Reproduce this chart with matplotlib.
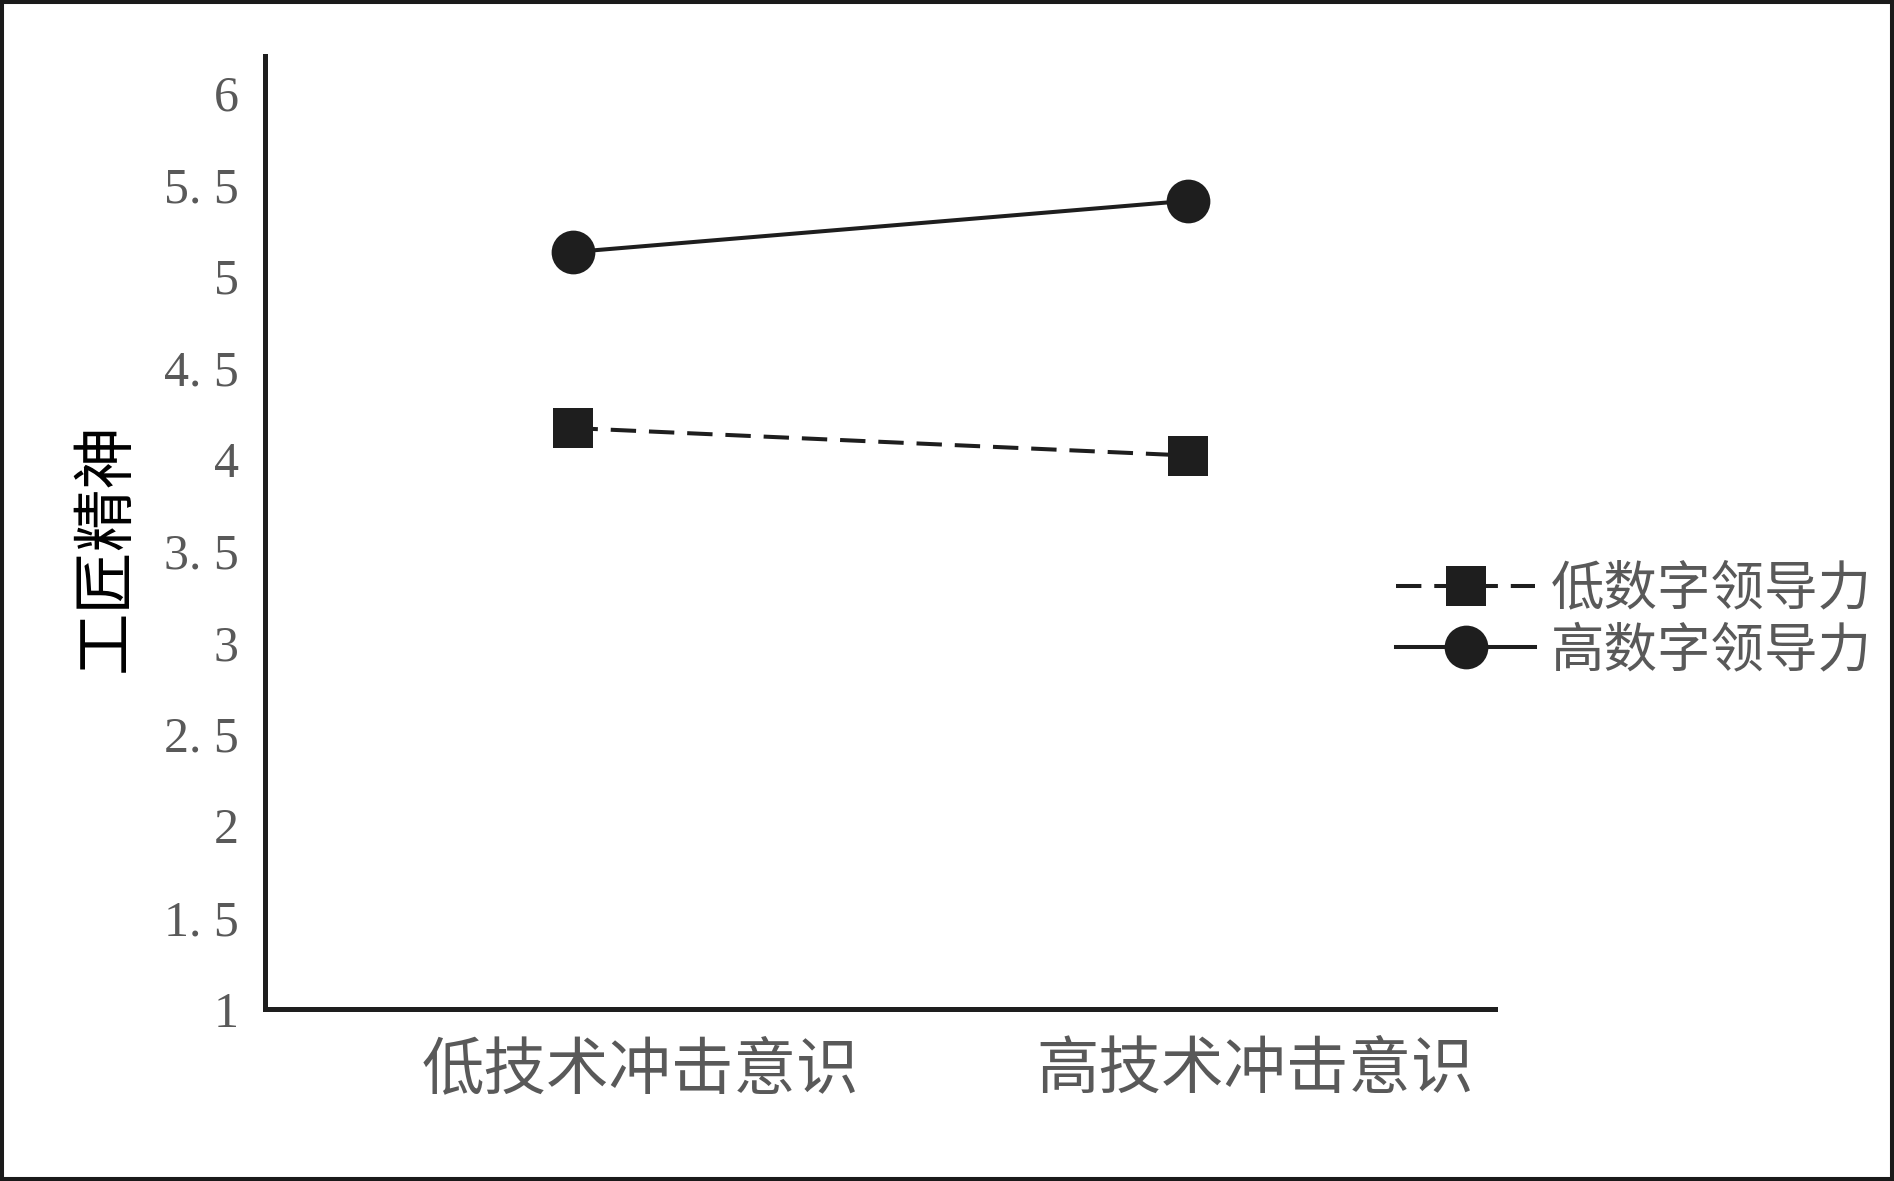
import matplotlib
matplotlib.use("Agg")
import matplotlib.pyplot as plt
import matplotlib.transforms as mtransforms
from matplotlib.patches import Rectangle

# --- data ---
categories = ["低技术冲击意识", "高技术冲击意识"]
low_dl = [4.17, 4.02]    # 低数字领导力
high_dl = [5.13, 5.41]   # 高数字领导力
yticks = [1, 1.5, 2, 2.5, 3, 3.5, 4, 4.5, 5, 5.5, 6]
ytick_labels = ["1", "1. 5", "2", "2. 5", "3", "3. 5", "4", "4. 5", "5", "5. 5", "6"]

CJK = "Noto Sans CJK SC"
plt.rcParams['font.family'] = ['Liberation Serif', CJK]
ink = '#1e1e1e'
grey = '#595959'

W, H = 1894, 1181
fig = plt.figure(figsize=(W / 100, H / 100), dpi=100)
ax = fig.add_axes([265 / W, 1 - 1009 / H, (1495 - 265) / W, (1009 - 56) / H])

x = list(range(len(categories)))
ax.plot(x, low_dl, color=ink, lw=2.9, linestyle=(0, (6.3, 3.2)),
        marker='s', markersize=29.5, markerfacecolor=ink, markeredgewidth=0,
        label="低数字领导力")
ax.plot(x, high_dl, color=ink, lw=2.9, linestyle='-',
        marker='o', markersize=31.5, markerfacecolor=ink, markeredgewidth=0,
        label="高数字领导力")

ax.set_xlim(-0.5, 1.5)
ax.set_ylim(1, 6.2)

ax.set_yticks(yticks)
ax.set_yticklabels(ytick_labels, fontsize=36, color=grey, family='Liberation Serif')
ax.set_xticks(x)
ax.set_xticklabels(categories, fontsize=45, color=grey, family=CJK)
ax.tick_params(axis='both', length=0)
ax.tick_params(axis='y', pad=19)
ax.tick_params(axis='x', pad=21)

# category labels sit a little right of the points in the original
shift = mtransforms.ScaledTranslation(0.68, 0, fig.dpi_scale_trans)
for lab in ax.get_xticklabels():
    lab.set_transform(lab.get_transform() + shift)

for side in ['top', 'right']:
    ax.spines[side].set_visible(False)
for side in ['left', 'bottom']:
    ax.spines[side].set_linewidth(3.6)
    ax.spines[side].set_color(ink)

fig.text(106 / W, 1 - 547 / H, "工匠精神", rotation=90, fontsize=45,
         family=CJK, color='black', ha='center', va='center')

leg = ax.legend(loc='center left', bbox_to_anchor=(1396 / W, 1 - 620 / H),
                bbox_transform=fig.transFigure, frameon=False,
                prop={'family': CJK, 'size': 38.5},
                handlelength=2.6, handletextpad=0.3, labelspacing=0.12,
                borderpad=0, borderaxespad=0)
for t in leg.get_texts():
    t.set_color(grey)

# frame around the whole picture
fig.patches.append(Rectangle((0, 0), 1, 1, transform=fig.transFigure,
                             fill=False, edgecolor='#1a1a1a', lw=5.8,
                             clip_on=False))

fig.savefig("out.png", dpi=100, facecolor='white')
